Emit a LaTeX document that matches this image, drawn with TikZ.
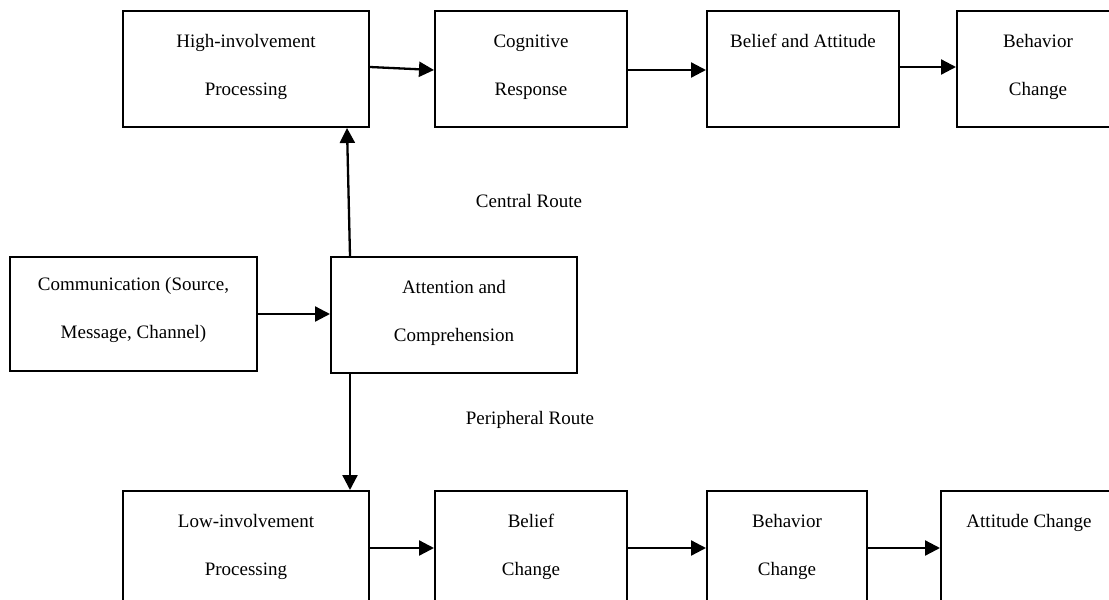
\documentclass[tikz,border=0pt]{standalone}
\usepackage{fontspec}
\setmainfont{Liberation Serif}
\usetikzlibrary{arrows.meta}
\newcommand\myst{\rule{0pt}{15pt}}
\begin{document}
\begin{tikzpicture}[x=1pt,y=-1pt,
  box/.style={draw, line width=2pt, inner sep=0pt, anchor=north west},
  txt/.style={font=\fontsize{19}{48}\selectfont, align=center, inner sep=0pt, anchor=north},
  arr/.style={-{Triangle[length=15pt,width=15pt]}, line width=2.3pt},
  lbl/.style={font=\fontsize{19}{23}\selectfont, inner sep=0pt}]
\useasboundingbox (0,0) rectangle (1109,600);
\clip (0,0) rectangle (1109,600);
% top row
\node[box, minimum width=246pt, minimum height=116pt] (high) at (122,10) {};
\node[box, minimum width=192pt, minimum height=116pt] (cog) at (434,10) {};
\node[box, minimum width=192pt, minimum height=116pt] (bel) at (706,10) {};
\node[box, minimum width=162pt, minimum height=116pt] (beh) at (956,10) {};
% middle row
\node[box, minimum width=247pt, minimum height=114pt] (comm) at (9,256) {};
\node[box, minimum width=246pt, minimum height=116pt] (att) at (330,256) {};
% bottom row
\node[box, minimum width=246pt, minimum height=116pt] (low) at (122,490) {};
\node[box, minimum width=192pt, minimum height=116pt] (belc) at (434,490) {};
\node[box, minimum width=160pt, minimum height=116pt] (behc) at (706,490) {};
\node[box, minimum width=176pt, minimum height=116pt] (attc) at (940,490) {};
% texts
\node[txt] (hight) at ([yshift=-22pt]high.north) {\myst High-involvement\\Processing};
\node[txt] (cogt) at ([yshift=-22pt]cog.north) {\myst Cognitive\\Response};
\node[txt] (belt) at ([yshift=-22pt]bel.north) {\myst Belief and Attitude};
\node[txt] (beht) at ([yshift=-22pt]beh.north) {\myst Behavior\\Change};
\node[txt] (commt) at ([yshift=-19pt]comm.north) {\myst Communication (Source,\\Message, Channel)};
\node[txt] (attt) at ([yshift=-22pt]att.north) {\myst Attention and\\Comprehension};
\node[txt] (lowt) at ([yshift=-22pt]low.north) {\myst Low-involvement\\Processing};
\node[txt] (belct) at ([yshift=-22pt]belc.north) {\myst Belief\\Change};
\node[txt] (behct) at ([yshift=-22pt]behc.north) {\myst Behavior\\Change};
\node[txt] (attct) at ([yshift=-22pt]attc.north) {\myst Attitude Change};
% route labels
\node[lbl] (central) at (529,201) {Central Route};
\node[lbl] (periph) at (530,420) {Peripheral Route};
% connectors
\draw[arr] ([yshift=2pt]high.east) -- ([yshift=-1pt]cog.west);
\draw[arr] ([yshift=-1pt]cog.east) -- ([yshift=-1pt]bel.west);
\draw[arr] ([yshift=2pt]bel.east) -- ([yshift=2pt]beh.west);
\draw[arr] (comm.east) -- (comm.east -| att.west);
\draw[arr] ([xshift=20pt]att.north west) -- ([xshift=225pt]high.south west);
\draw[arr] ([xshift=20pt]att.south west) -- ([xshift=228pt]low.north west);
\draw[arr] ([yshift=1pt]low.east) -- ([yshift=1pt]belc.west);
\draw[arr] ([yshift=1pt]belc.east) -- ([yshift=1pt]behc.west);
\draw[arr] ([yshift=1pt]behc.east) -- ([yshift=1pt]attc.west);
\end{tikzpicture}
\end{document}
